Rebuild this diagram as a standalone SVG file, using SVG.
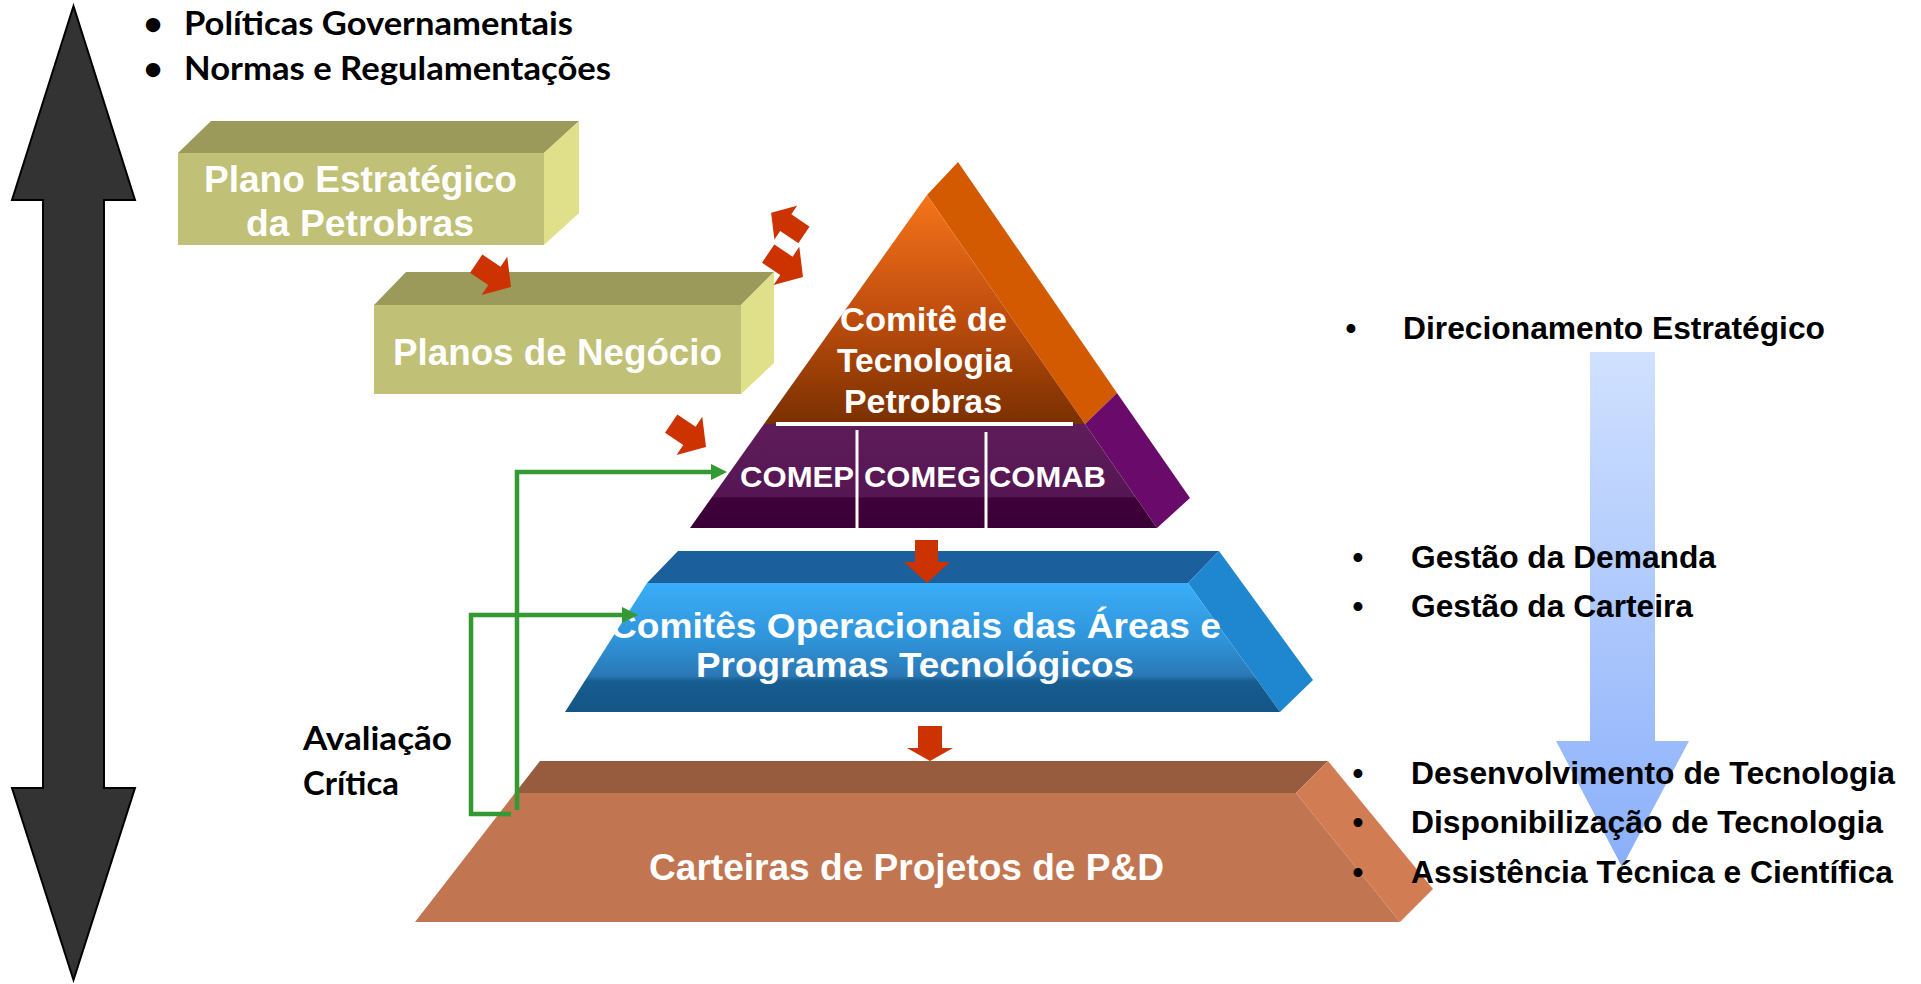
<svg xmlns="http://www.w3.org/2000/svg" width="1921" height="984" viewBox="0 0 1921 984">
<defs>
<style>
.cal{font-family:Lato,"Open Sans","Liberation Sans",sans-serif;font-weight:700;fill:#000}
.ar{font-family:"Liberation Sans",Arial,sans-serif;font-weight:700}
.w{fill:#fff}
.k{fill:#000}
.red{fill:#cc3300}
.grn{fill:none;stroke:#339933;stroke-width:4.5}
</style>
<linearGradient id="gOr" gradientUnits="userSpaceOnUse" x1="0" y1="195" x2="0" y2="424">
<stop offset="0" stop-color="#f5741a"/><stop offset="0.5" stop-color="#c24f0e"/><stop offset="1" stop-color="#7a3000"/>
</linearGradient>
<linearGradient id="gPu" gradientUnits="userSpaceOnUse" x1="0" y1="424" x2="0" y2="528">
<stop offset="0" stop-color="#5e1c5a"/><stop offset="0.7" stop-color="#561653"/><stop offset="0.71" stop-color="#40003b"/><stop offset="1" stop-color="#3a0035"/>
</linearGradient>
<linearGradient id="gBl" gradientUnits="userSpaceOnUse" x1="0" y1="583" x2="0" y2="712">
<stop offset="0" stop-color="#3aaefa"/><stop offset="0.45" stop-color="#2f93d8"/><stop offset="0.72" stop-color="#2a78b5"/><stop offset="0.76" stop-color="#175d90"/><stop offset="1" stop-color="#135585"/>
</linearGradient>
<linearGradient id="gRt" gradientUnits="userSpaceOnUse" x1="0" y1="352" x2="0" y2="867">
<stop offset="0" stop-color="#d0e1ff"/><stop offset="1" stop-color="#8aaffa"/>
</linearGradient>
<marker id="gh" viewBox="0 0 10 10" refX="2.5" refY="5" markerWidth="3.6" markerHeight="3.6" orient="auto" markerUnits="strokeWidth"><path d="M0,0 L10,5 L0,10 Z" fill="#339933"/></marker>
<path id="ra" d="M0,0 L-20,-23 L-20,-11 L-42,-11 L-42,11 L-20,11 L-20,23 Z"/>
</defs>
<rect width="1921" height="984" fill="#fff"/>

<g id="scope-arrow">
<polygon points="73.5,6 135,200 104,200 104,788 135,788 73.5,980 12,788 43,788 43,200 12,200" fill="#333" stroke="#000" stroke-width="2"/>
</g>

<g id="direction-arrow">
<polygon points="1590,352 1655,352 1655,741 1689,741 1622,867 1556,741 1590,741" fill="url(#gRt)"/>
</g>

<g id="top-bullets">
<text class="cal" x="153" y="35" text-anchor="middle" font-size="33">•</text>
<text class="cal" x="184" y="35" font-size="33" textLength="389" lengthAdjust="spacingAndGlyphs">Políticas Governamentais</text>
<text class="cal" x="153" y="80" text-anchor="middle" font-size="33">•</text>
<text class="cal" x="184" y="80" font-size="33" textLength="427" lengthAdjust="spacingAndGlyphs">Normas e Regulamentações</text>
</g>

<g id="plano-estrategico">
<polygon points="178,153 211,121 579,121 544,153" fill="#9b9a5b"/>
<polygon points="544,153 579,121 579,213 544,245" fill="#e0e08a"/>
<rect x="178" y="153" width="366" height="92" fill="#c1c077"/>
<text class="ar w" x="204" y="192" font-size="37" textLength="313" lengthAdjust="spacingAndGlyphs">Plano Estratégico</text>
<text class="ar w" x="246" y="236" font-size="37" textLength="228" lengthAdjust="spacingAndGlyphs">da Petrobras</text>
</g>

<g id="planos-negocio">
<polygon points="374,305 406,272 774,272 741,305" fill="#9b9a5b"/>
<polygon points="741,305 774,272 774,363 741,394" fill="#e0e08a"/>
<rect x="374" y="305" width="367" height="89" fill="#c1c077"/>
<text class="ar w" x="393" y="365" font-size="37" textLength="329" lengthAdjust="spacingAndGlyphs">Planos de Negócio</text>
</g>

<g id="comite-tecnologia">
<polygon points="927,195 958,162 1117,393 1085,424" fill="#d35a00"/>
<polygon points="1085,424 1117,393 1190,498 1157,528" fill="#6a0a6a"/>
<polygon points="927,195 1085,424 764,424" fill="url(#gOr)"/>
<polygon points="764,424 1085,424 1157,528 690,528" fill="url(#gPu)"/>
<line x1="776" y1="424" x2="1073" y2="424" stroke="#fff" stroke-width="4"/>
<line x1="857" y1="430" x2="857" y2="528" stroke="#fff" stroke-width="3"/>
<line x1="986" y1="432" x2="986" y2="528" stroke="#fff" stroke-width="3"/>
<text class="ar w" x="840" y="331" font-size="33" textLength="167" lengthAdjust="spacingAndGlyphs">Comitê de</text>
<text class="ar w" x="837" y="372" font-size="33" textLength="175" lengthAdjust="spacingAndGlyphs">Tecnologia</text>
<text class="ar w" x="844" y="413" font-size="33" textLength="158" lengthAdjust="spacingAndGlyphs">Petrobras</text>
<text class="ar w" x="740" y="487" font-size="30" textLength="114" lengthAdjust="spacingAndGlyphs">COMEP</text>
<text class="ar w" x="864" y="487" font-size="30" textLength="117" lengthAdjust="spacingAndGlyphs">COMEG</text>
<text class="ar w" x="989" y="487" font-size="30" textLength="117" lengthAdjust="spacingAndGlyphs">COMAB</text>
</g>

<g id="comites-operacionais">
<polygon points="678,551 1219,551 1188,583 647,583" fill="#1b609c"/>
<polygon points="1219,551 1313,680 1280,712 1188,583" fill="#1f87d0"/>
<polygon points="647,583 1188,583 1280,712 565,712" fill="url(#gBl)"/>
<text class="ar w" x="610" y="638" font-size="35" textLength="611" lengthAdjust="spacingAndGlyphs">Comitês Operacionais das Áreas e</text>
<text class="ar w" x="696" y="677" font-size="35" textLength="438" lengthAdjust="spacingAndGlyphs">Programas Tecnológicos</text>
</g>

<g id="carteiras">
<polygon points="540,761 1328,761 1296,793 515,793" fill="#975b3d"/>
<polygon points="1328,761 1433,889 1400,922 1296,793" fill="#d27c53"/>
<polygon points="515,793 1296,793 1400,922 415,922" fill="#c17550"/>
<text class="ar w" x="649" y="880" font-size="37" textLength="515" lengthAdjust="spacingAndGlyphs">Carteiras de Projetos de P&amp;D</text>
</g>

<g id="avaliacao-critica">
<text class="cal" x="303" y="750" font-size="33" textLength="149" lengthAdjust="spacingAndGlyphs">Avaliação</text>
<text class="cal" x="303" y="795" font-size="33" textLength="96" lengthAdjust="spacingAndGlyphs">Crítica</text>
</g>

<g id="connectors">
<use href="#ra" class="red" transform="translate(511,287) rotate(34)"/>
<use href="#ra" class="red" transform="translate(803,277) rotate(34)"/>
<use href="#ra" class="red" transform="translate(770,212) rotate(214)" stroke="#fff" stroke-width="2"/>
<use href="#ra" class="red" transform="translate(706,447) rotate(34)"/>
<polygon class="red" points="915,540 938,540 938,562 950,562 927,583 904,562 915,562"/>
<polygon class="red" points="918,726 942,726 942,748 953,748 930,761 907,748 918,748"/>
<path class="grn" d="M517,810 V472 H715" marker-end="url(#gh)"/>
<path class="grn" d="M511,814 H471 V615 H626" marker-end="url(#gh)"/>
</g>

<g id="right-bullets">
<text class="ar k" x="1351" y="339" text-anchor="middle" font-size="31">•</text>
<text class="ar k" x="1403" y="339" font-size="31" textLength="422" lengthAdjust="spacingAndGlyphs">Direcionamento Estratégico</text>
<text class="ar k" x="1358" y="568" text-anchor="middle" font-size="31">•</text>
<text class="ar k" x="1411" y="568" font-size="31" textLength="305" lengthAdjust="spacingAndGlyphs">Gestão da Demanda</text>
<text class="ar k" x="1358" y="617" text-anchor="middle" font-size="31">•</text>
<text class="ar k" x="1411" y="617" font-size="31" textLength="282" lengthAdjust="spacingAndGlyphs">Gestão da Carteira</text>
<text class="ar k" x="1358" y="784" text-anchor="middle" font-size="31">•</text>
<text class="ar k" x="1411" y="784" font-size="31" textLength="484" lengthAdjust="spacingAndGlyphs">Desenvolvimento de Tecnologia</text>
<text class="ar k" x="1358" y="833" text-anchor="middle" font-size="31">•</text>
<text class="ar k" x="1411" y="833" font-size="31" textLength="472" lengthAdjust="spacingAndGlyphs">Disponibilização de Tecnologia</text>
<text class="ar k" x="1358" y="883" text-anchor="middle" font-size="31">•</text>
<text class="ar k" x="1411" y="883" font-size="31" textLength="482" lengthAdjust="spacingAndGlyphs">Assistência Técnica e Científica</text>
</g>
</svg>
